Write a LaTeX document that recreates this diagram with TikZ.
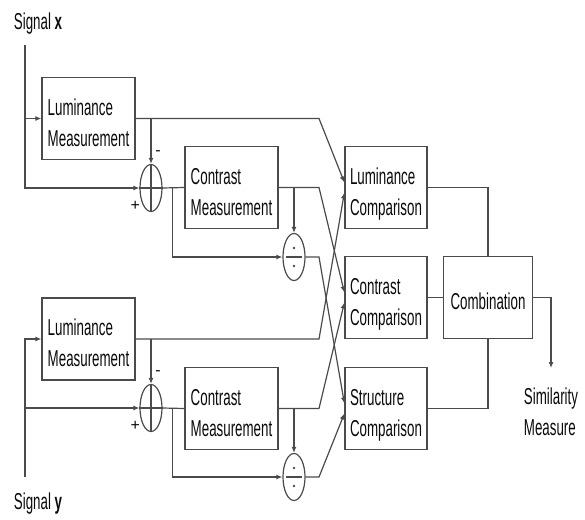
\documentclass[tikz,border=0pt]{standalone}
\usepackage{fontspec}
\setmainfont{Liberation Sans}
\usepackage{graphicx}
\usetikzlibrary{shapes.geometric,arrows.meta,calc}
\definecolor{ssline}{RGB}{75,75,75}
\definecolor{sstext}{RGB}{10,10,10}
\newcommand{\thin}[1]{\raisebox{-6pt}[\height][\depth]{\scalebox{0.58}[1]{\begin{tabular}{@{}l@{}}#1\end{tabular}}}}

\begin{document}
\begin{tikzpicture}[x=1pt,y=-1pt,
    font=\fontsize{23}{31}\selectfont, text=sstext,
    block/.style={draw=ssline, line width=1.2pt, inner sep=0pt},
    meas/.style={block, minimum width=93pt, minimum height=82pt},
    comp/.style={block, minimum width=82pt, minimum height=82pt},
    sumnode/.style={block, ellipse, minimum width=22pt, minimum height=47pt},
    wire/.style={draw=ssline, line width=1.2pt},
    feed/.style={wire, -{Latex[length=6pt,width=5pt]}}]
    \useasboundingbox (0,0) rectangle (585,519);

    \node (sigx) at (38,24) {\scalebox{0.58}[1]{Signal \textbf{x}}};
    \node (sigy) at (38,504) {\scalebox{0.58}[1]{Signal \textbf{y}}};
    \coordinate (sx) at (25,45);
    \coordinate (sy) at (25,477);
    \coordinate (kx) at (319,0);

    \node[meas] (lumx) at (88.5,118.5) {\thin{Luminance\\Measurement}};
    \node[meas] (conx) at (231.5,187.5) {\thin{Contrast\\Measurement}};
    \node[meas] (lumy) at (88.5,339) {\thin{Luminance\\Measurement}};
    \node[meas] (cony) at (231.5,408.5) {\thin{Contrast\\Measurement}};

    \node[sumnode] (subx) at (151,188) {};
    \node[sumnode] (suby) at (151,408) {};
    \node[sumnode] (divx) at (294,257) {};
    \node[sumnode] (divy) at (294,477) {};

    \node[comp] (lumc) at (386,187.5) {\thin{Luminance\\Comparison}};
    \node[comp] (conc) at (386,297.5) {\thin{Contrast\\Comparison}};
    \node[comp] (strc) at (386,408.5) {\thin{Structure\\Comparison}};
    \node[block, minimum width=89pt, minimum height=82pt] (comb) at (488,297.5) {\thin{Combination}};
    \node[anchor=north, inner sep=0pt] (sim) at (551,383)
        {\scalebox{0.58}[1]{\begin{tabular}{@{}l@{}}Similarity\\Measure\end{tabular}}};

    % signs inside the circles
    \draw[wire] (subx.north) -- (subx.south) (subx.west) -- (subx.east);
    \draw[wire] (suby.north) -- (suby.south) (suby.west) -- (suby.east);
    \foreach \d in {divx,divy} {
        \draw[wire] ($(\d.center)+(-8,0)$) -- ($(\d.center)+(8,0)$);
        \fill[ssline] ($(\d.center)+(0,-9)$) circle (1.3pt) ($(\d.center)+(0,9)$) circle (1.3pt);
    }
    \node[font=\fontsize{16}{16}\selectfont] (plusx) at ($(subx.west)+(-4,18)$) {+};
    \node[font=\fontsize{16}{16}\selectfont] (minx) at ($(subx.north)+(7,-11)$) {-};
    \node[font=\fontsize{16}{16}\selectfont] (plusy) at ($(suby.west)+(-4,18)$) {+};
    \node[font=\fontsize{16}{16}\selectfont] (miny) at ($(suby.north)+(7,-11)$) {-};

    % signal x
    \draw[feed] (sx) |- (subx.west);
    \draw[feed] (sx |- lumx.west) -- (lumx.west);
    \draw[feed] (lumx.east) -- (lumx.east -| kx) -- ($(lumc.west)+(0,-5)$);
    \draw[feed] (subx.north |- lumx.east) -- (subx.north);
    \draw[wire] (subx.east) -- (conx.west);
    \coordinate (bx) at ($(subx.east)!0.45!(conx.west)$);
    \draw[feed] (bx) |- (divx.west);
    \draw[feed] (conx.east) -- (conx.east -| kx) -- ($(conc.west)+(0,-5)$);
    \draw[feed] (divx.north |- conx.east) -- (divx.north);
    \draw[feed] (divx.east) -- (divx.east -| kx) -- ($(strc.west)+(0,-5)$);

    % signal y
    \draw[feed] (sy) |- (lumy.west);
    \draw[feed] (sy |- suby.west) -- (suby.west);
    \draw[feed] (lumy.east) -- (lumy.east -| kx) -- ($(lumc.west)+(0,5)$);
    \draw[feed] (suby.north |- lumy.east) -- (suby.north);
    \draw[wire] (suby.east) -- (cony.west);
    \coordinate (by) at ($(suby.east)!0.45!(cony.west)$);
    \draw[feed] (by) |- (divy.west);
    \draw[feed] (cony.east) -- (cony.east -| kx) -- ($(conc.west)+(0,5)$);
    \draw[feed] (divy.north |- cony.east) -- (divy.north);
    \draw[feed] (divy.east) -- (divy.east -| kx) -- ($(strc.west)+(0,5)$);

    % combination
    \draw[wire] (lumc.east) -| (comb.north);
    \draw[wire] (conc.east) -- (comb.west);
    \draw[wire] (strc.east) -| (comb.south);
    \draw[feed] (comb.east) -| ([yshift=15pt]sim.north);
\end{tikzpicture}
\end{document}
